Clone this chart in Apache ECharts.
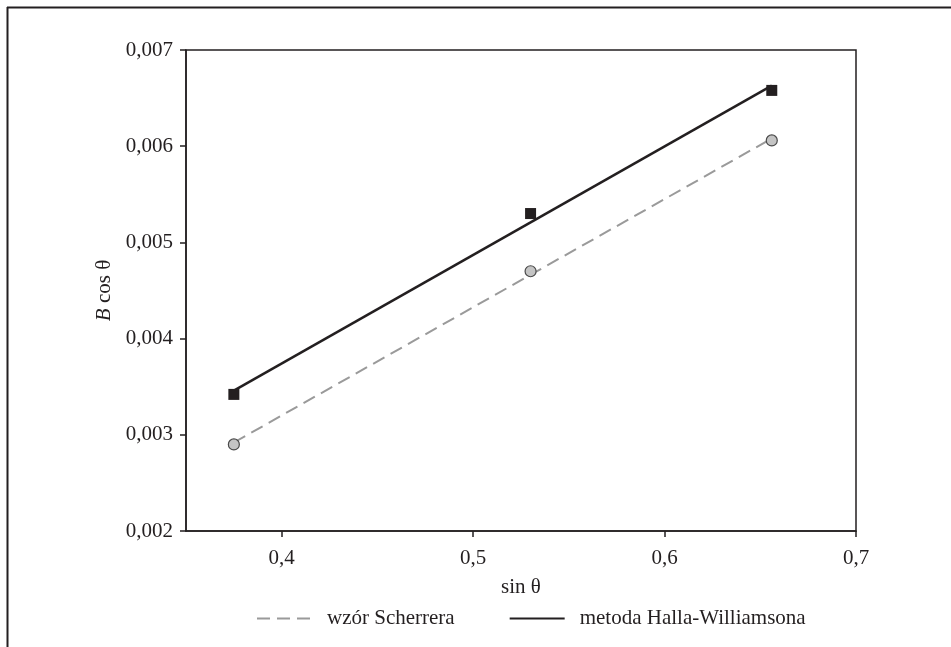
<!DOCTYPE html>
<html>
<head>
<meta charset="utf-8">
<style>
  html, body { margin: 0; padding: 0; background: #fff; }
  #chart { width: 951px; height: 647px; }
</style>
<script src="https://cdn.jsdelivr.net/npm/echarts@6/dist/echarts.min.js"></script>
</head>
<body>
<div id="chart"></div>
<script>
// Measured points: sin θ against B cos θ
var sinTheta = [0.375, 0.53, 0.656];
var scherrerValues = [0.0029, 0.0047, 0.00606];
var hallValues = [0.00342, 0.0053, 0.00658];

// Fitted straight lines, drawn between the first and last sin θ
var fitX = [0.375, 0.656];
var scherrerFit = [0.00292, 0.00608];
var hallFit = [0.00346, 0.00663];

// Axis ticks
var xTicks = [0.4, 0.5, 0.6, 0.7];

var seriesNames = ['wzór Scherrera', 'metoda Halla-Williamsona'];

function pairs(xs, ys) {
  return xs.map(function (x, i) { return [x, ys[i]]; });
}

var ink = '#231f20';
var font = '"Liberation Serif", "Times New Roman", serif';

var chart = echarts.init(document.getElementById('chart'), null, { renderer: 'canvas' });

chart.setOption({
  backgroundColor: '#ffffff',
  animation: false,
  textStyle: { fontFamily: font, color: ink },
  grid: {
    left: 186, right: 95, top: 50, bottom: 116,
    show: true, borderColor: ink, borderWidth: 1.5, backgroundColor: 'transparent'
  },
  legend: {
    data: seriesNames,
    top: 608,
    left: 256,
    padding: 0,
    itemWidth: 55,
    itemHeight: 14,
    itemGap: 54,
    itemStyle: { color: 'transparent', borderColor: 'transparent', borderWidth: 0 },
    textStyle: { fontFamily: font, fontSize: 21, color: ink, padding: [0, 0, 0, 10] }
  },
  xAxis: {
    type: 'value',
    min: 0.35,
    max: 0.7,
    name: 'sin θ',
    nameLocation: 'middle',
    nameGap: 46,
    nameTextStyle: { fontFamily: font, fontSize: 21, color: ink },
    axisLine: { show: true, lineStyle: { color: ink, width: 1.5 } },
    axisTick: { show: true, inside: false, length: 6, lineStyle: { color: ink, width: 1.5 }, customValues: xTicks },
    axisLabel: {
      fontFamily: font, fontSize: 21, color: ink, margin: 17,
      customValues: xTicks,
      formatter: function (v) { return v.toFixed(1).replace('.', ','); }
    },
    splitLine: { show: false }
  },
  yAxis: {
    type: 'value',
    min: 0.002,
    max: 0.007,
    interval: 0.001,
    name: '{i|B} cos θ',
    nameLocation: 'middle',
    nameGap: 63,
    nameRotate: 90,
    nameTextStyle: {
      fontFamily: font, fontSize: 21, color: ink,
      rich: { i: { fontFamily: font, fontSize: 21, fontStyle: 'italic', color: ink } }
    },
    axisLine: { show: true, lineStyle: { color: ink, width: 1.5 } },
    axisTick: { show: true, inside: false, length: 6, lineStyle: { color: ink, width: 1.5 } },
    axisLabel: {
      fontFamily: font, fontSize: 21, color: ink, margin: 13,
      formatter: function (v) { return v.toFixed(3).replace('.', ','); }
    },
    splitLine: { show: false }
  },
  graphic: [
    { type: 'line', shape: { x1: 7, y1: 7.5, x2: 951, y2: 7.5 }, style: { stroke: ink, lineWidth: 2 }, z: 10 },
    { type: 'line', shape: { x1: 7.5, y1: 7, x2: 7.5, y2: 647 }, style: { stroke: ink, lineWidth: 2 }, z: 10 }
  ],
  series: [
    {
      name: seriesNames[0],
      type: 'line',
      data: pairs(fitX, scherrerFit),
      symbol: 'none',
      lineStyle: { color: '#9a9a9a', width: 2, type: [13, 7] },
      itemStyle: { color: '#9a9a9a' },
      z: 2
    },
    {
      name: seriesNames[1],
      type: 'line',
      data: pairs(fitX, hallFit),
      symbol: 'none',
      lineStyle: { color: ink, width: 2.5 },
      itemStyle: { color: ink },
      z: 2
    },
    {
      name: 'scherrer-points',
      type: 'scatter',
      data: pairs(sinTheta, scherrerValues),
      symbol: 'circle',
      symbolSize: 11,
      itemStyle: { color: '#c4c4c4', borderColor: '#4a4a4a', borderWidth: 1.2, opacity: 1 },
      z: 5
    },
    {
      name: 'hall-points',
      type: 'scatter',
      data: pairs(sinTheta, hallValues),
      symbol: 'rect',
      symbolSize: 11,
      itemStyle: { color: ink, opacity: 1 },
      z: 5
    }
  ]
});
</script>
</body>
</html>
